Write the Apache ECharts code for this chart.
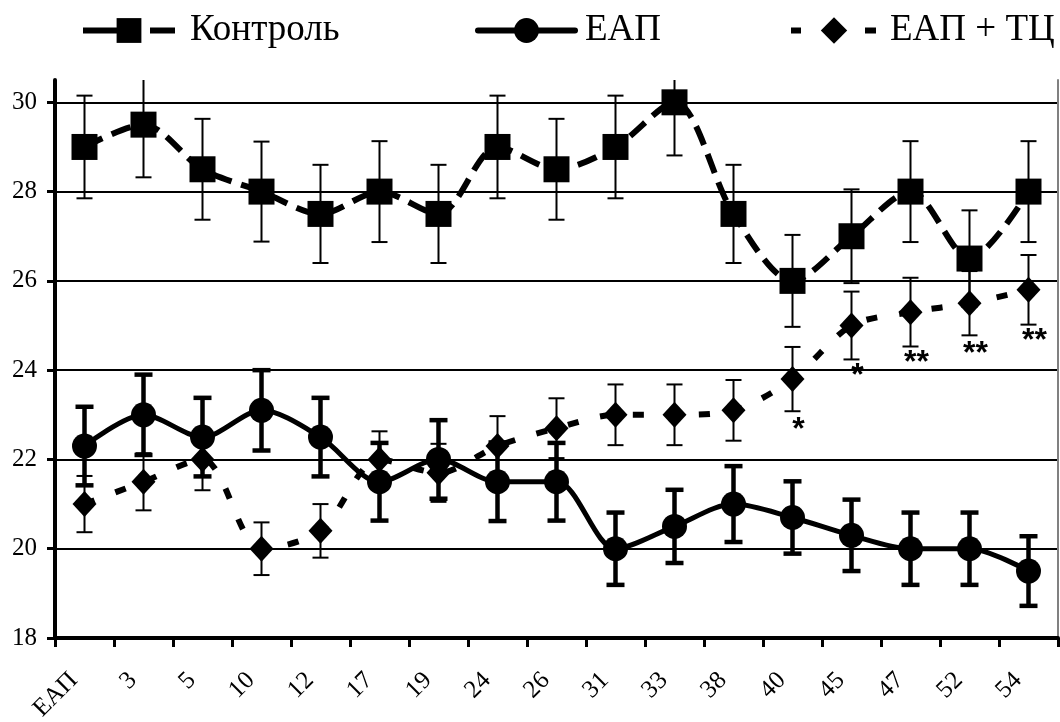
<!DOCTYPE html>
<html>
<head>
<meta charset="utf-8">
<script src="https://cdn.jsdelivr.net/npm/echarts@6/dist/echarts.min.js"></script>
<style>html,body{margin:0;padding:0;background:#fff}#c{width:1060px;height:722px}</style>
</head>
<body>
<div id="c"></div>
<script>
const categories = ['ЕАП','3','5','10','12','17','19','24','26','31','33','38','40','45','47','52','54'];
const yTicks = [18, 20, 22, 24, 26, 28, 30];
const seriesNames = ['Контроль', 'ЕАП', 'ЕАП + ТЦ'];
const control = [29.0, 29.5, 28.5, 28.0, 27.5, 28.0, 27.5, 29.0, 28.5, 29.0, 30.0, 27.5, 26.0, 27.0, 28.0, 26.5, 28.0];
const controlErr = [1.15, 1.18, 1.13, 1.12, 1.10, 1.13, 1.10, 1.15, 1.13, 1.15, 1.19, 1.10, 1.03, 1.05, 1.13, 1.08, 1.13];
const eap = [22.3, 23.0, 22.5, 23.1, 22.5, 21.5, 22.0, 21.5, 21.5, 20.0, 20.5, 21.0, 20.7, 20.3, 20.0, 20.0, 19.5];
const eapErr = [0.88, 0.90, 0.88, 0.90, 0.88, 0.87, 0.88, 0.88, 0.87, 0.81, 0.82, 0.85, 0.81, 0.80, 0.81, 0.81, 0.78];
const eapTc = [21.0, 21.5, 22.0, 20.0, 20.4, 22.0, 21.7, 22.3, 22.7, 23.0, 23.0, 23.1, 23.8, 25.0, 25.3, 25.5, 25.8];
const eapTcErr = [0.63, 0.64, 0.69, 0.59, 0.60, 0.63, 0.65, 0.67, 0.67, 0.68, 0.68, 0.68, 0.72, 0.76, 0.77, 0.72, 0.78];
const significance = ['', '', '', '', '', '', '', '', '', '', '', '', '*', '*', '**', '**', '**'];

const chart = echarts.init(document.getElementById('c'), null, {renderer: 'canvas'});
const serif = 'Liberation Serif';

function errorBars(id, means, errs, lw, half) {
  return {
    type: 'custom', name: id, clip: true, silent: true,
    data: means.map((m, i) => [i, m - errs[i], m + errs[i]]),
    encode: {x: 0, y: [1, 2]},
    renderItem: function (params, api) {
      const lo = api.coord([api.value(0), api.value(1)]);
      const hi = api.coord([api.value(0), api.value(2)]);
      const st = {stroke: '#000', lineWidth: lw};
      return {type: 'group', children: [
        {type: 'line', shape: {x1: lo[0], y1: lo[1], x2: hi[0], y2: hi[1]}, style: st},
        {type: 'line', shape: {x1: lo[0] - half, y1: lo[1], x2: lo[0] + half, y2: lo[1]}, style: st},
        {type: 'line', shape: {x1: hi[0] - half, y1: hi[1], x2: hi[0] + half, y2: hi[1]}, style: st}
      ]};
    }
  };
}

function legendText(pad) {
  return {fontSize: 37, fontFamily: serif, color: '#000', padding: [0, 0, 0, pad]};
}

const option = {
  animation: false,
  backgroundColor: '#fff',
  legend: [
    {data: [seriesNames[0]], left: 75, top: 7, itemWidth: 92, itemHeight: 31,
     lineStyle: {width: 6, type: [34, 33, 25, 100]}, textStyle: legendText(10)},
    {data: [seriesNames[1]], left: 470, top: 7, itemWidth: 97, itemHeight: 31,
     lineStyle: {width: 6, type: 'solid', cap: 'round'}, textStyle: legendText(5)},
    {data: [seriesNames[2]], left: 783, top: 7, itemWidth: 86, itemHeight: 33,
     lineStyle: {width: 6, type: [10, 64, 11, 100]}, textStyle: legendText(8)}
  ],
  grid: {left: 55, right: 2, top: 80, bottom: 84, containLabel: false, outerBoundsMode: 'none'},
  xAxis: {
    type: 'category', data: categories, boundaryGap: true,
    axisLine: {lineStyle: {color: '#000', width: 4}},
    axisTick: {show: true, length: 9, lineStyle: {color: '#000', width: 3}},
    axisLabel: {rotate: 45, margin: 28, fontSize: 25, fontFamily: serif, color: '#000', padding: [0, 15, 30, 0]},
    splitLine: {show: false}
  },
  yAxis: [
    {
      type: 'value', min: 18, max: 30.5, interval: 2,
      axisLine: {show: true, lineStyle: {color: '#000', width: 4}},
      axisTick: {show: true, length: 8, lineStyle: {color: '#000', width: 3}, customValues: yTicks},
      axisLabel: {fontSize: 25, fontFamily: serif, color: '#000', margin: 18, customValues: yTicks},
      splitLine: {show: true, lineStyle: {color: '#000', width: 2}}
    },
    {
      type: 'value', min: 18, max: 30.5, interval: 2, position: 'right',
      axisLine: {show: true, lineStyle: {color: '#808080', width: 2}},
      axisTick: {show: false}, axisLabel: {show: false}, splitLine: {show: false}
    }
  ],
  series: [
    errorBars('errTc', eapTc, eapTcErr, 2, 8),
    {
      name: seriesNames[2], type: 'line', data: eapTc.map((v, i) => ({
        value: v,
        label: {show: significance[i] !== '', formatter: significance[i]}
      })),
      smooth: 0.3, symbol: 'diamond', symbolSize: [24, 26],
      lineStyle: {color: '#000', width: 6, type: [11, 22]},
      itemStyle: {color: '#000'},
      label: {position: 'bottom', distance: 22, offset: [6, 0], fontSize: 32, fontWeight: 'bold', fontFamily: 'Liberation Sans', color: '#000'}
    },
    errorBars('errEap', eap, eapErr, 4.5, 9),
    {
      name: seriesNames[1], type: 'line', data: eap, smooth: 0.3,
      symbol: 'circle', symbolSize: 25,
      lineStyle: {color: '#000', width: 5}, itemStyle: {color: '#000'}
    },
    errorBars('errCtrl', control, controlErr, 2, 8),
    {
      name: seriesNames[0], type: 'line', data: control, smooth: 0.3,
      symbol: 'rect', symbolSize: 26,
      lineStyle: {color: '#000', width: 6, type: [20, 10]}, itemStyle: {color: '#000'}
    }
  ]
};
chart.setOption(option);
</script>
</body>
</html>
